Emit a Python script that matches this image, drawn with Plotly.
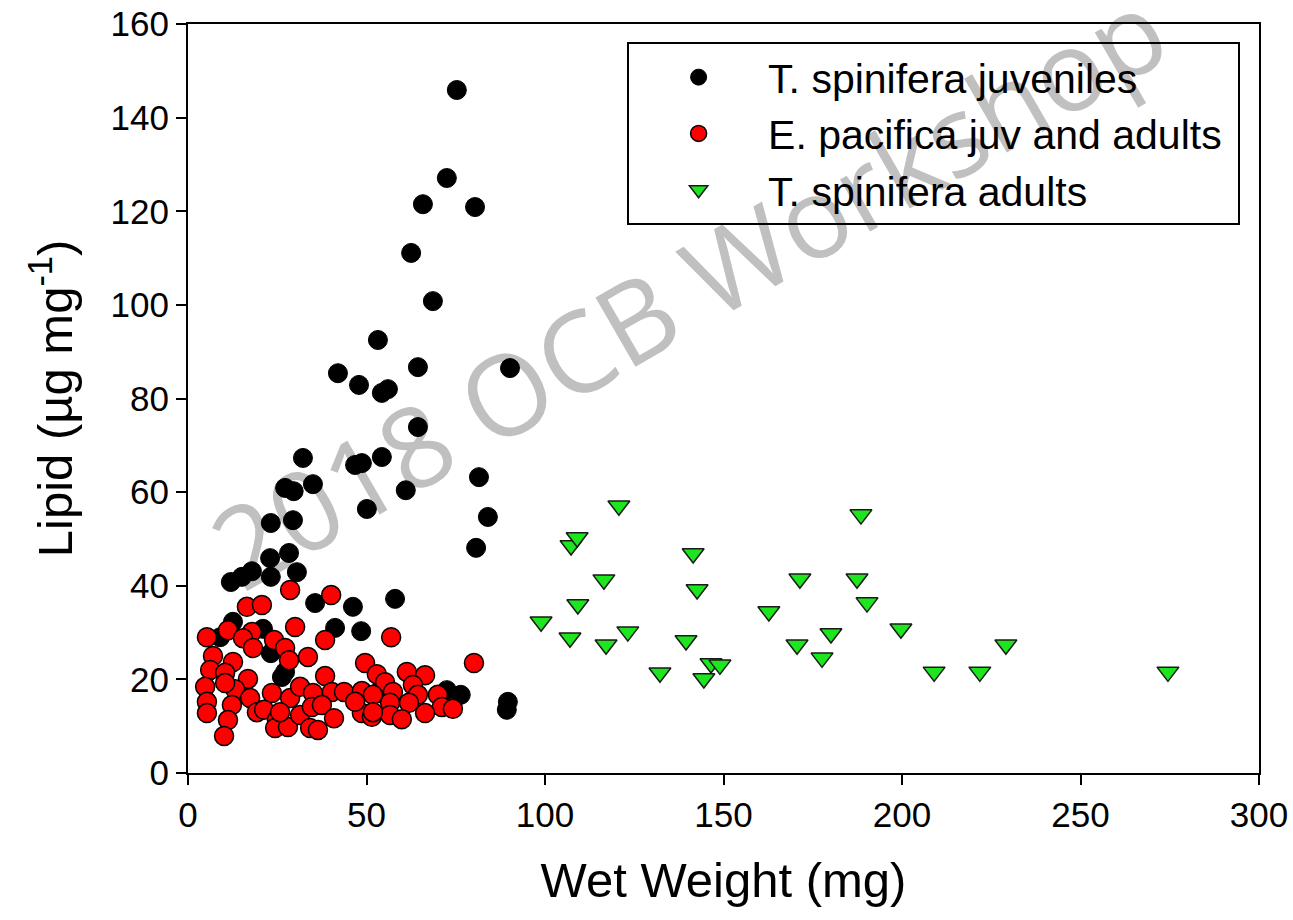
import plotly.graph_objects as go

# T. spinifera juveniles
juv_x = [75.3, 72.5, 65.8, 80.4, 62.5, 68.6, 53.2, 42.0, 47.9, 54.3, 56.0, 64.4, 90.2, 64.4,
         32.2, 54.3, 46.8, 48.7, 35.0, 27.2, 29.6, 61.0, 81.5, 50.1, 29.4, 23.2, 84.0, 80.7,
         28.3, 23.0, 30.5, 23.2, 12.0, 15.1, 17.9, 35.6, 46.2, 41.2, 48.5, 12.6, 21.0, 9.0,
         23.2, 27.2, 26.3, 58.0, 72.5, 76.4, 89.6, 89.3]
juv_y = [145.9, 127.1, 121.5, 120.9, 111.1, 100.8, 92.5, 85.4, 82.9, 81.2, 82.0, 86.7, 86.5, 73.9,
         67.3, 67.5, 65.8, 66.2, 61.7, 60.9, 60.2, 60.4, 63.2, 56.4, 54.0, 53.4, 54.7, 48.1,
         47.0, 45.9, 42.9, 41.9, 40.8, 41.9, 43.1, 36.3, 35.5, 31.0, 30.3, 32.3, 30.8, 29.0,
         25.6, 21.6, 20.5, 37.2, 17.7, 16.7, 15.2, 13.5]

# E. pacifica juv and adults
pac_x = [28.6, 40.1, 16.5, 20.7, 30.0, 11.2, 17.9, 5.3, 15.4, 24.1, 38.4, 18.2, 27.2, 7.0,
         12.6, 28.3, 33.6, 6.2, 10.4, 16.8, 38.4, 4.8, 13.2, 10.4, 17.4, 23.5, 28.6, 31.4,
         35.0, 40.3, 43.7, 48.7, 53.2, 49.6, 52.9, 5.3, 5.3, 12.3, 11.2, 10.1, 19.3, 21.3,
         24.9, 24.4, 28.0, 25.8, 31.4, 34.7, 34.2, 36.4, 37.5, 40.9, 48.7, 51.5, 46.8, 56.9,
         80.1, 61.3, 66.4, 55.2, 63.0, 64.4, 57.4, 70.0, 71.1, 74.2, 56.6, 61.9, 56.6, 59.9,
         66.4, 51.8, 51.8]
pac_y = [39.1, 38.0, 35.5, 35.9, 31.2, 30.5, 30.1, 29.0, 28.8, 28.4, 28.4, 26.7, 26.7, 25.0,
         23.7, 24.1, 24.8, 22.0, 21.4, 20.1, 20.7, 18.4, 17.9, 19.2, 16.0, 17.1, 16.0, 18.4,
         17.1, 17.3, 17.3, 17.5, 17.1, 23.5, 21.1, 15.2, 12.8, 14.5, 11.3, 7.9, 13.0, 13.5,
         11.3, 9.6, 9.8, 13.0, 12.4, 14.1, 9.6, 9.2, 14.5, 11.7, 12.8, 12.0, 15.2, 29.0,
         23.5, 21.6, 20.9, 19.4, 18.8, 16.7, 17.3, 16.7, 14.1, 13.7, 15.0, 15.0, 12.4, 11.5,
         12.8, 16.7, 13.0]

# T. spinifera adults
adu_x = [98.9, 107.0, 107.3, 109.0, 109.2, 120.7, 116.5, 117.1, 123.2, 132.2, 139.5, 141.5,
         142.6, 144.5, 146.5, 149.0, 162.7, 170.6, 171.4, 177.6, 180.1, 187.4, 188.5, 190.2,
         199.7, 209.0, 221.8, 229.1, 274.5]
adu_y = [32.3, 28.9, 48.6, 50.3, 36.0, 57.1, 41.3, 27.4, 30.2, 21.4, 28.3, 46.9,
         39.2, 20.2, 23.4, 23.1, 34.5, 27.4, 41.5, 24.6, 29.8, 41.5, 55.2, 36.4,
         30.8, 21.6, 21.6, 27.4, 21.6]

x_ticks = [0, 50, 100, 150, 200, 250, 300]
y_ticks = [0, 20, 40, 60, 80, 100, 120, 140, 160]

FONT = "Liberation Sans, Arial, sans-serif"

fig = go.Figure()
fig.add_trace(go.Scatter(
    x=juv_x, y=juv_y, mode="markers", name="T. spinifera juveniles",
    marker=dict(color="black", size=19, line=dict(color="black", width=1)),
))
fig.add_trace(go.Scatter(
    x=pac_x, y=pac_y, mode="markers", name="E. pacifica juv and adults\u00a0",
    marker=dict(color="#ff0000", size=19, line=dict(color="black", width=1.5)),
))
fig.add_trace(go.Scatter(
    x=adu_x, y=adu_y, mode="markers", name="T. spinifera adults",
    marker=dict(symbol="triangle-down", color="#1ee61e", size=19,
                line=dict(color="#1a1a1a", width=1.5)),
))

axis_common = dict(
    showgrid=False, zeroline=False, showline=True, linecolor="black", linewidth=2,
    mirror=True, ticks="outside", ticklen=10, tickwidth=2, tickcolor="black",
    automargin=False,
    tickfont=dict(family=FONT, size=35, color="black"),
)

fig.update_xaxes(range=[0, 300], tickvals=x_ticks, **axis_common,
                 title=dict(text="Wet Weight (mg)", font=dict(family=FONT, size=49, color="black"),
                            standoff=30))
fig.update_yaxes(range=[0, 160], tickvals=y_ticks, **axis_common,
                 title=dict(text="Lipid (µg mg<sup>-1</sup>)", font=dict(family=FONT, size=49, color="black"),
                            standoff=22))

fig.add_shape(type="rect", xref="paper", yref="paper", x0=0.3, x1=0.64, y0=0.55, y1=0.73,
              line=dict(width=0), fillcolor="rgba(0,0,0,0)", layer="below",
              label=dict(text="2018 OCB Workshop", textangle=-30, textposition="middle center",
                         font=dict(family="Open Sans, sans-serif", size=112, color="#c0c0c0")))

fig.update_layout(
    width=1293, height=920,
    margin=dict(l=188, r=34, t=24, b=147, autoexpand=False),
    paper_bgcolor="white", plot_bgcolor="white",
    font=dict(family=FONT, color="black"),
    legend=dict(x=0.41, y=0.976, xanchor="left", yanchor="top",
                bordercolor="black", borderwidth=2, bgcolor="rgba(0,0,0,0)",
                font=dict(family=FONT, size=41, color="black"),
                itemwidth=129, tracegroupgap=0),
    showlegend=True,
)

fig.write_html("out.html")
